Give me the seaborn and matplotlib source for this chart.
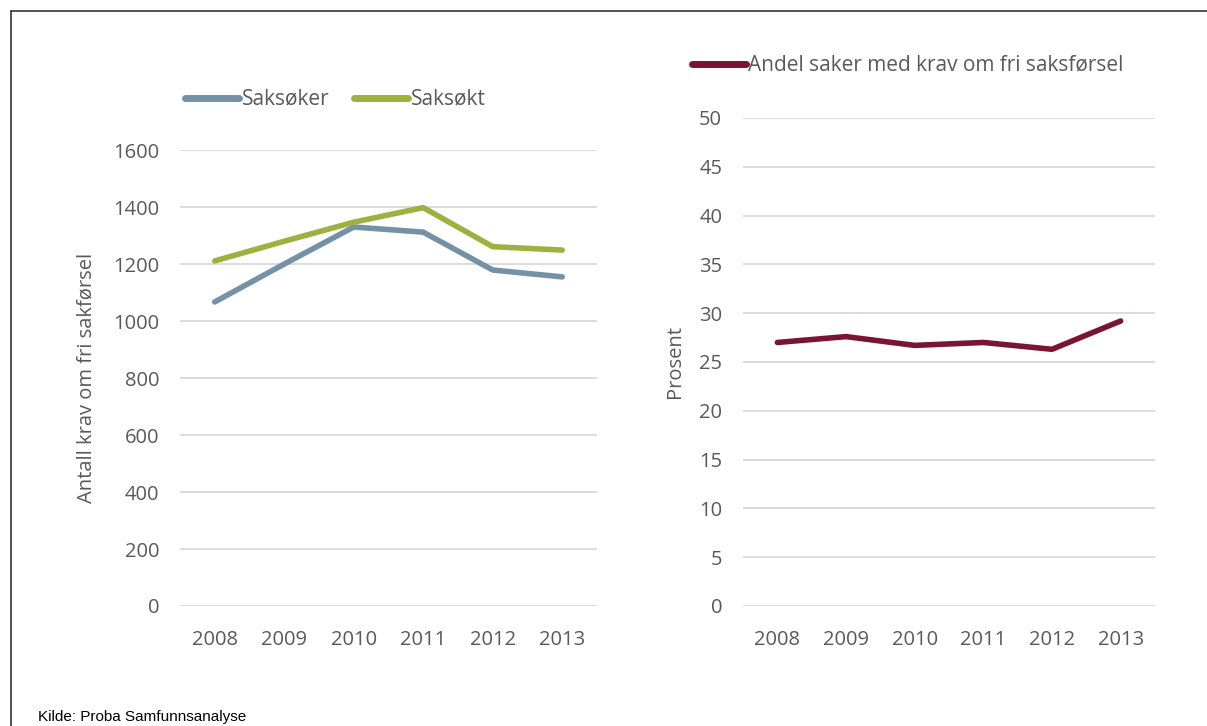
import matplotlib
matplotlib.use("Agg")
import matplotlib.pyplot as plt
from matplotlib.lines import Line2D
import seaborn as sns
import pandas as pd

years = ["2008", "2009", "2010", "2011", "2012", "2013"]
saksoker = [1067, 1200, 1330, 1312, 1179, 1155]
saksokt = [1211, 1280, 1347, 1398, 1261, 1249]
andel = [27.0, 27.6, 26.7, 27.0, 26.3, 29.2]

left_ticks = [0, 200, 400, 600, 800, 1000, 1200, 1400, 1600]
right_ticks = [0, 5, 10, 15, 20, 25, 30, 35, 40, 45, 50]

c_blue = "#7591A5"
c_green = "#9DB13F"
c_red = "#7B1431"
c_text = "#595959"
c_grid = "#D9D9D9"

sns.set_theme(style="white")
plt.rcParams['font.family'] = ['Open Sans', 'DejaVu Sans']

fig = plt.figure(figsize=(12.07, 7.26), dpi=100)

df_left = pd.DataFrame({
    "year": years * 2,
    "value": saksoker + saksokt,
    "series": ["Saksøker"] * len(years) + ["Saksøkt"] * len(years),
})
df_right = pd.DataFrame({"year": years, "value": andel,
                         "series": ["Andel saker med krav om fri saksførsel"] * len(years)})

ax1 = fig.add_axes([0.1491, 0.1653, 0.3455, 0.628])
ax2 = fig.add_axes([0.6156, 0.1653, 0.3413, 0.6722])

sns.lineplot(data=df_left, x="year", y="value", hue="series",
             palette={"Saksøker": c_blue, "Saksøkt": c_green},
             linewidth=4.0, ax=ax1, sort=False)
sns.lineplot(data=df_right, x="year", y="value", hue="series",
             palette={"Andel saker med krav om fri saksførsel": c_red},
             linewidth=4.0, ax=ax2, sort=False)

for ax, ticks, ylabel in [(ax1, left_ticks, "Antall krav om fri sakførsel"),
                          (ax2, right_ticks, "Prosent")]:
    ax.set_xlim(-0.5, len(years) - 0.5)
    ax.set_ylim(ticks[0], ticks[-1])
    ax.set_yticks(ticks)
    ax.set_xticks(range(len(years)))
    ax.set_xticklabels(years)
    ax.yaxis.grid(True, color=c_grid, linewidth=1.3)
    ax.xaxis.grid(False)
    ax.set_axisbelow(True)
    for s in ax.spines.values():
        s.set_visible(False)
    ax.tick_params(axis="both", length=0, labelsize=14.5, colors=c_text)
    ax.tick_params(axis="y", pad=15)
    ax.tick_params(axis="x", pad=17)
    ax.set_xlabel("")
    ax.set_ylabel(ylabel, fontsize=14.5, color=c_text)
    for ln in ax.get_lines():
        ln.set_solid_capstyle("round")
        ln.set_solid_joinstyle("round")

ax1.yaxis.labelpad = 12
ax2.yaxis.labelpad = 10

leg1 = ax1.legend(loc="lower left", bbox_to_anchor=(-0.008, 1.07), ncol=2, frameon=False,
                  fontsize=15, handlelength=2.6, handletextpad=0.12, columnspacing=1.2,
                  borderaxespad=0, labelcolor=c_text)
for h in leg1.get_lines():
    h.set_linewidth(5)
    h.set_solid_capstyle("round")
leg2 = ax2.legend(loc="lower left", bbox_to_anchor=(-0.145, 1.069), ncol=1, frameon=False,
                  fontsize=15, handlelength=2.6, handletextpad=0.12,
                  borderaxespad=0, labelcolor=c_text)
for h in leg2.get_lines():
    h.set_linewidth(5)
    h.set_solid_capstyle("round")

# frame lines
fig.add_artist(Line2D([0.0091, 1.0], [0.9848, 0.9848], color="#333333", linewidth=1.2,
                      transform=fig.transFigure))
fig.add_artist(Line2D([0.0091, 0.0091], [0.0, 0.9848], color="#333333", linewidth=1.2,
                      transform=fig.transFigure))

fig.text(0.0315, 0.0124, "Kilde: Proba Samfunnsanalyse", fontsize=11,
         family=["Liberation Sans", "DejaVu Sans"], color="#000000", va="center", ha="left")

fig.savefig("out.png", dpi=100, facecolor="white")
